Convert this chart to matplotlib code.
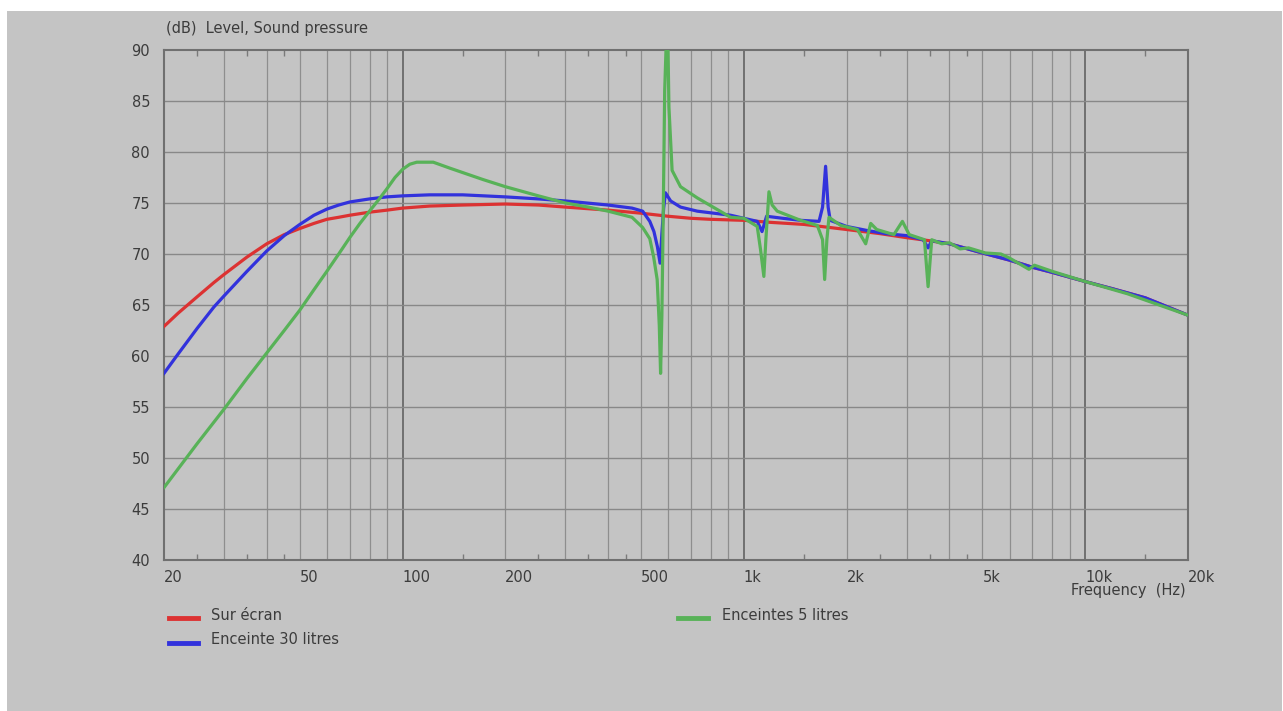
import matplotlib
matplotlib.use("Agg")
import matplotlib.pyplot as plt
from matplotlib.patches import Rectangle
from matplotlib.ticker import FixedLocator, NullFormatter

# Sur écran (red)
red_f = [20, 22, 25, 28, 30, 35, 40, 45, 50, 55, 60, 65, 70, 80, 90, 100, 120, 150,
         200, 250, 300, 400, 500, 600, 700, 800, 1000, 1200, 1500, 2000, 2500,
         3000, 3500, 4000, 5000, 6000, 7000, 8000, 10000, 12000, 15000, 20000]
red_db = [62.9, 64.2, 65.8, 67.2, 68.0, 69.7, 71.0, 71.9, 72.5, 73.0, 73.4, 73.6,
          73.8, 74.1, 74.3, 74.5, 74.7, 74.8, 74.9, 74.8, 74.6, 74.3, 74.0, 73.7,
          73.5, 73.4, 73.3, 73.1, 72.9, 72.4, 72.0, 71.6, 71.3, 71.0, 70.1, 69.4,
          68.7, 68.2, 67.3, 66.6, 65.7, 64.0]

# Enceinte 30 litres (blue)
blue_f = [20, 22, 25, 28, 30, 35, 40, 45, 50, 55, 60, 65, 70, 80, 90, 100, 120, 150,
          200, 250, 300, 400, 470, 505, 530, 545, 558, 568, 575, 582, 589, 610,
          652, 730, 816, 914, 1000, 1094, 1130, 1165, 1300, 1466, 1660, 1700,
          1735, 1765, 1790, 2000, 2300, 2600, 3000, 3350, 3464, 3550, 4000, 5000,
          6000, 7000, 8000, 10000, 12000, 15000, 20000]
blue_db = [58.3, 60.2, 62.7, 64.8, 65.9, 68.3, 70.3, 71.8, 72.9, 73.8, 74.4, 74.8,
           75.1, 75.4, 75.6, 75.7, 75.8, 75.8, 75.6, 75.4, 75.2, 74.8, 74.5, 74.2,
           73.2, 72.2, 70.7, 69.1, 72.0, 74.5, 76.0, 75.2, 74.6, 74.2, 74.0, 73.8,
           73.5, 73.2, 72.2, 73.7, 73.5, 73.3, 73.2, 74.6, 78.6, 74.6, 73.3, 72.7,
           72.3, 72.0, 71.8, 71.4, 70.6, 71.3, 71.0, 70.1, 69.4, 68.7, 68.2, 67.3,
           66.6, 65.7, 64.0]

# Enceintes 5 litres (green)
green_f = [20, 25, 30, 35, 40, 45, 50, 55, 60, 65, 70, 75, 80, 85, 90, 95, 100,
           105, 110, 123, 138, 172, 200, 250, 300, 350, 400, 470, 505, 530, 544,
           557, 565, 570, 575, 580, 586, 592, 599, 603, 616, 652, 730, 914, 1000,
           1094, 1119, 1144, 1160, 1184, 1210, 1252, 1466, 1641, 1700, 1724, 1750,
           1775, 1921, 2150, 2274, 2352, 2450, 2750, 2913, 3050, 3380, 3464, 3550,
           3800, 4000, 4300, 4550, 5100, 5660, 6000, 6840, 7100, 8000, 10000,
           13300, 20000]
green_db = [47.1, 51.4, 54.8, 57.8, 60.3, 62.5, 64.5, 66.5, 68.3, 70.0, 71.6,
            73.0, 74.2, 75.3, 76.4, 77.5, 78.3, 78.8, 79.0, 79.0, 78.4, 77.3,
            76.6, 75.7, 75.0, 74.6, 74.2, 73.6, 72.6, 71.5, 69.7, 67.5, 63.0,
            58.3, 64.0, 73.3, 86.0, 90.6, 90.6, 84.4, 78.2, 76.6, 75.5, 73.6,
            73.5, 72.7, 70.4, 67.8, 71.5, 76.1, 74.8, 74.2, 73.3, 72.8, 71.4,
            67.5, 71.4, 73.6, 72.8, 72.4, 71.0, 73.0, 72.4, 71.9, 73.2, 71.9,
            71.4, 66.8, 71.4, 71.0, 71.1, 70.5, 70.6, 70.1, 70.0, 69.6, 68.5,
            68.9, 68.3, 67.3, 66.1, 64.0]

x_ticks = [20, 50, 100, 200, 500, 1000, 2000, 5000, 10000, 20000]
x_labels = ["20", "50", "100", "200", "500", "1k", "2k", "5k", "10k", "20k"]
half_ticks = [25, 35, 45, 150, 250, 350, 450, 1500, 2500, 3500, 4500, 15000]
y_ticks = [40, 45, 50, 55, 60, 65, 70, 75, 80, 85, 90]

W, H = 1283, 711
bg = "#c4c4c4"
txt = "#3c3c3c"
fs = 10.5

fig = plt.figure(figsize=(W / 100, H / 100), dpi=100)
fig.patch.set_facecolor("white")
fig.add_artist(Rectangle((7 / W, 0), 1275 / W, 700 / H, transform=fig.transFigure,
                         facecolor=bg, edgecolor="none", zorder=0))

ax = fig.add_axes([164 / W, (H - 560) / H, 1024 / W, 510 / H])
ax.set_facecolor(bg)
ax.set_xscale("log")
ax.set_xlim(20, 20000)
ax.set_ylim(40, 90)

# grid: every 1..9 per decade, decades darker
for dec in [10, 100, 1000, 10000]:
    for m in range(1, 10):
        f = dec * m
        if 20 < f < 20000:
            if m == 1:
                ax.axvline(f, color="#6a6a6a", lw=1.3, zorder=1)
            else:
                ax.axvline(f, color="#8e8e8e", lw=0.9, zorder=1)
for y in y_ticks[1:-1]:
    ax.axhline(y, color="#888888", lw=1.0, zorder=1)

ax.plot(red_f, red_db, color="#dc3232", lw=2.3, zorder=3)
ax.plot(blue_f, blue_db, color="#3232dc", lw=2.3, zorder=4)
ax.plot(green_f, green_db, color="#58b258", lw=2.3, zorder=5)

for s in ax.spines.values():
    s.set_color("#707070")
    s.set_linewidth(1.5)

ax.set_xticks(x_ticks)
ax.set_xticklabels(x_labels)
ax.xaxis.set_minor_locator(FixedLocator(half_ticks))
ax.xaxis.set_minor_formatter(NullFormatter())
ax.set_yticks(y_ticks)
ax.tick_params(axis="x", which="major", length=0, pad=7, labelsize=fs, labelcolor=txt)
ax.tick_params(axis="y", length=0, pad=10, labelsize=fs, labelcolor=txt)
ax.tick_params(axis="x", which="minor", direction="in", length=4, top=True,
               bottom=True, color="#7a7a7a", width=1)
for lab in ax.get_xticklabels():
    lab.set_horizontalalignment("left")

fig.text(166 / W, 1 - 28 / H, "(dB)  Level, Sound pressure", fontsize=fs,
         color=txt, va="center", ha="left")
fig.text(1186 / W, 1 - 591 / H, "Frequency  (Hz)", fontsize=fs, color=txt,
         va="center", ha="right")

# legend
legend_items = [("Sur écran", "#dc3232", 169, 198, 618, 211),
                ("Enceinte 30 litres", "#3232dc", 169, 198, 643, 211),
                ("Enceintes 5 litres", "#58b258", 678, 708, 618, 722)]
for label, col, x0, x1, yy, xt in legend_items:
    fig.add_artist(plt.Line2D([x0 / W, x1 / W], [1 - yy / H, 1 - yy / H],
                              color=col, lw=3.5, transform=fig.transFigure))
    fig.text(xt / W, 1 - (yy - 3) / H, label, fontsize=fs, color=txt,
             va="center", ha="left")

fig.savefig("out.png", dpi=100, facecolor=fig.get_facecolor())
